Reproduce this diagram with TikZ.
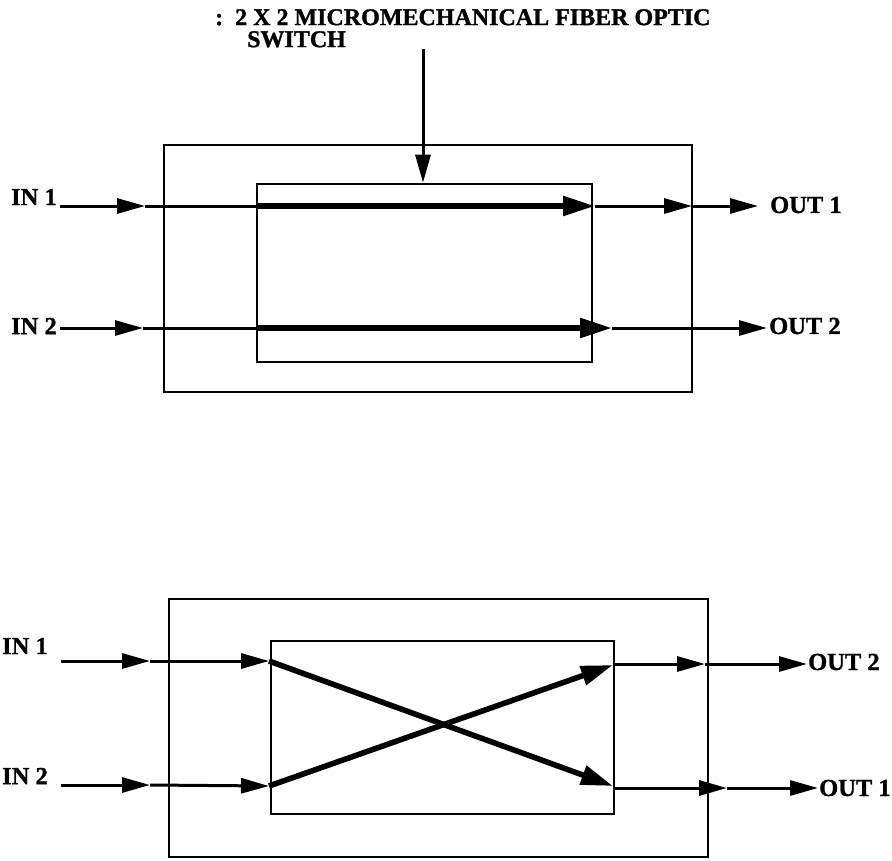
\documentclass[tikz,border=0pt]{standalone}
\usepackage{fontspec}
\setmainfont{Liberation Serif}
\newfontfamily\heavyfont{Liberation Serif Bold}[FakeBold=1.2]
\usetikzlibrary{arrows.meta}
\begin{document}
\begin{tikzpicture}[x=1pt,y=-1pt,
  lbl/.style={font=\fontsize{24.5}{28}\selectfont\heavyfont, inner sep=0pt},
  ttl/.style={font=\fontsize{24}{22}\selectfont\heavyfont, inner sep=0pt, align=left, anchor=north west},
  box/.style={draw, line width=2.6pt, inner sep=0pt},
  fib/.style={line width=3pt},
  fibarr/.style={line width=3pt, -{Triangle[length=28pt,width=15pt]}},
  thk/.style={line width=5.6pt, -{Triangle[length=32pt,width=19pt]}}]
\useasboundingbox (0,0) rectangle (892,860);
% ---------- title ----------
\node[ttl] (t1) at (215,9) {:\ \ 2 X 2 MICROMECHANICAL FIBER OPTIC\\\hspace*{32pt}SWITCH};
% ---------- top switch (bar state) ----------
\node[box, minimum width=528pt, minimum height=247pt] (outA) at (428,268.5) {};
\node[box, minimum width=335pt, minimum height=178pt] (inA) at (424.5,273) {};
\coordinate (ctl) at (423,49);
\draw[fibarr] (ctl) -- (ctl |- inA.north);
\node[lbl, anchor=east] (inA1) at (57,197) {IN 1};
\node[lbl, anchor=east] (inA2) at (57,326) {IN 2};
\node[lbl, anchor=west] (outA1) at (770,205) {OUT 1};
\node[lbl, anchor=west] (outA2) at (769,326) {OUT 2};
\coordinate (A1s) at (60,206);
\coordinate (A1a) at (145,206);
\coordinate (A1b) at (257,206);
\coordinate (A1c) at (595,206);
\coordinate (A1d) at (692,206);
\coordinate (A1e) at (758,206);
\draw[fibarr] (A1s) -- (A1a);
\draw[fib] (A1a) -- (A1b);
\draw[thk] (A1b) -- (A1c);
\draw[fibarr] (A1c) -- (A1d);
\draw[fibarr] (A1d) -- (A1e);
\coordinate (A2s) at (60,328);
\coordinate (A2a) at (143,328);
\coordinate (A2b) at (257,328);
\coordinate (A2c) at (612,328);
\coordinate (A2e) at (767,328);
\draw[fibarr] (A2s) -- (A2a);
\draw[fib] (A2a) -- (A2b);
\draw[thk] (A2b) -- (A2c);
\draw[fibarr] (A2c) -- (A2e);
% ---------- bottom switch (cross state) ----------
\node[box, minimum width=539pt, minimum height=258pt] (outB) at (438.5,728) {};
\node[box, minimum width=343pt, minimum height=173pt] (inB) at (442.5,727.5) {};
\node[lbl, anchor=west] (inB1) at (2,646) {IN 1};
\node[lbl, anchor=west] (inB2) at (2,776) {IN 2};
\node[lbl, anchor=west] (outB2) at (808,662) {OUT 2};
\node[lbl, anchor=west] (outB1) at (819,788) {OUT 1};
\coordinate (B1s) at (61,661);
\coordinate (B1a) at (150,661);
\coordinate (B1b) at (269,661);
\coordinate (B2s) at (61,785);
\coordinate (B2a) at (150,785);
\coordinate (B2b) at (269,786);
\coordinate (C1) at (613,786);
\coordinate (C2) at (613,665);
\draw[fibarr] (B1s) -- (B1a);
\draw[fibarr] (B1a) -- (B1b);
\draw[fibarr] (B2s) -- (B2a);
\draw[fibarr] (B2a) -- (B2b);
\draw[thk] (B1b) -- (C1);
\draw[thk] (B2b) -- (C2);
\coordinate (R1s) at (614,664);
\coordinate (R1a) at (705,664);
\coordinate (R1b) at (807,664);
\coordinate (R2s) at (614,788);
\coordinate (R2a) at (727,788);
\coordinate (R2b) at (818,788);
\draw[fibarr] (R1s) -- (R1a);
\draw[fibarr] (R1a) -- (R1b);
\draw[fibarr] (R2s) -- (R2a);
\draw[fibarr] (R2a) -- (R2b);
\end{tikzpicture}
\end{document}
